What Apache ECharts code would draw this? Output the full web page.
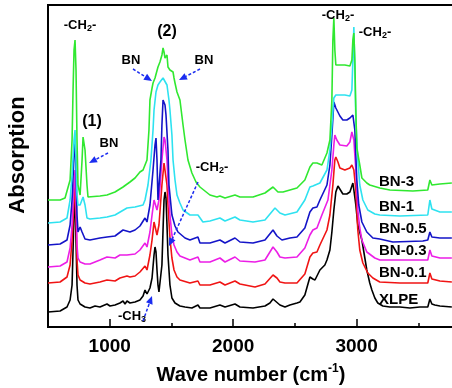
<!DOCTYPE html>
<html>
<head>
<meta charset="utf-8">
<script src="https://cdn.jsdelivr.net/npm/echarts@6/dist/echarts.min.js"></script>
<style>
  html, body { margin: 0; padding: 0; background: #fff; }
  #chart { width: 452px; height: 388px; }
</style>
</head>
<body>
<div id="chart"></div>
<script>
// FTIR spectra, [wave number (cm-1), absorption (a.u., stacked offset)]
const xlpe = [[500,15],[598,16],[654,20],[679,27],[695,42],[703,77],[711,117],[719,127],[727,87],[735,42],[743,27],[760,23],[800,20],[840,19],[881,21],[921,20],[978,23],[1002,21],[1043,22],[1083,24],[1108,26],[1124,23],[1140,26],[1164,24],[1205,25],[1245,27],[1270,31],[1286,37],[1302,33],[1326,39],[1343,49],[1359,72],[1367,80],[1375,75],[1383,57],[1391,42],[1399,35],[1407,37],[1423,62],[1432,97],[1440,127],[1448,135],[1456,129],[1464,102],[1472,72],[1488,42],[1504,29],[1529,24],[1569,21],[1610,20],[1666,19],[1715,22],[1731,19],[1812,19],[1893,22],[1934,20],[2015,23],[2055,20],[2161,19],[2258,21],[2298,24],[2323,28],[2339,27],[2379,22],[2420,20],[2460,22],[2517,24],[2541,25],[2581,32],[2622,50],[2646,48],[2663,47],[2679,51],[2703,57],[2743,62],[2760,67],[2784,77],[2800,95],[2816,117],[2832,135],[2849,141],[2865,139],[2889,133],[2905,132],[2921,133],[2946,135],[2962,141],[2970,144],[2978,137],[2994,122],[3010,102],[3043,87],[3067,69],[3083,57],[3107,44],[3124,37],[3148,29],[3172,24],[3213,21],[3270,20],[3351,20],[3432,19],[3513,20],[3577,20],[3594,28],[3610,23],[3634,22],[3675,21],[3772,20]];

const bn01 = [[500,44],[598,45],[654,50],[679,62],[695,87],[711,127],[719,142],[727,112],[735,67],[743,52],[760,47],[800,44],[840,43],[921,45],[978,47],[1043,46],[1083,49],[1140,51],[1164,50],[1205,51],[1245,55],[1286,61],[1302,57],[1326,72],[1343,87],[1359,105],[1367,107],[1383,92],[1399,102],[1407,115],[1423,142],[1440,164],[1448,162],[1464,142],[1472,122],[1488,89],[1504,69],[1521,57],[1545,50],[1569,47],[1650,44],[1715,46],[1731,42],[1812,42],[1893,45],[1934,42],[2015,46],[2055,43],[2177,40],[2258,43],[2323,52],[2355,49],[2379,45],[2420,44],[2517,44],[2581,53],[2622,70],[2646,74],[2679,75],[2703,82],[2760,97],[2784,112],[2808,142],[2824,167],[2832,170],[2849,165],[2865,159],[2905,157],[2946,159],[2962,162],[2978,157],[2994,137],[3010,97],[3026,77],[3051,64],[3091,54],[3132,49],[3188,45],[3351,44],[3577,44],[3594,54],[3610,48],[3675,46],[3772,45]];

const bn03 = [[500,60],[598,61],[654,65],[679,79],[695,102],[711,142],[719,157],[727,127],[735,82],[743,69],[760,65],[800,63],[840,63],[921,67],[978,70],[1043,69],[1083,72],[1140,72],[1205,73],[1245,77],[1286,84],[1302,80],[1326,95],[1343,112],[1359,127],[1367,129],[1383,117],[1399,127],[1407,139],[1423,167],[1440,190],[1448,187],[1464,167],[1472,147],[1488,112],[1504,92],[1521,82],[1545,75],[1569,71],[1650,67],[1715,70],[1731,65],[1812,65],[1893,69],[1934,65],[2015,70],[2055,66],[2177,65],[2258,67],[2323,80],[2355,75],[2379,70],[2420,69],[2517,70],[2581,79],[2622,92],[2646,97],[2679,99],[2719,112],[2768,127],[2800,157],[2816,182],[2824,192],[2840,187],[2865,182],[2921,181],[2946,185],[2962,195],[2978,187],[2994,157],[3010,117],[3026,99],[3043,87],[3083,75],[3148,69],[3188,67],[3351,67],[3577,67],[3594,77],[3610,71],[3675,69],[3772,69]];

const bn05 = [[500,82],[598,83],[654,87],[679,102],[695,127],[711,172],[719,187],[727,157],[735,112],[743,95],[760,100],[776,95],[800,88],[840,87],[921,89],[978,90],[1043,91],[1108,97],[1164,95],[1205,97],[1245,101],[1286,109],[1302,105],[1326,122],[1351,157],[1367,182],[1375,189],[1383,167],[1391,127],[1407,129],[1415,167],[1423,202],[1432,227],[1448,222],[1456,212],[1472,177],[1480,142],[1504,112],[1529,101],[1553,95],[1610,89],[1650,87],[1715,90],[1731,84],[1812,84],[1893,87],[1934,84],[2015,89],[2055,85],[2161,84],[2258,87],[2323,97],[2355,91],[2395,87],[2460,89],[2517,90],[2581,99],[2622,115],[2646,119],[2679,120],[2703,127],[2760,142],[2784,162],[2800,192],[2816,225],[2832,219],[2865,211],[2889,207],[2921,207],[2946,209],[2970,212],[2986,197],[3002,147],[3018,122],[3043,105],[3083,95],[3132,89],[3188,88],[3294,85],[3537,86],[3577,87],[3594,95],[3610,90],[3675,89],[3772,89]];

const bn1 = [[500,104],[598,105],[654,109],[679,127],[695,152],[711,187],[719,197],[727,167],[735,132],[743,122],[760,122],[784,130],[800,122],[816,109],[840,108],[921,109],[978,110],[1043,112],[1140,119],[1205,120],[1270,122],[1286,127],[1310,142],[1334,167],[1351,197],[1359,217],[1375,235],[1391,242],[1407,245],[1432,249],[1448,247],[1464,242],[1480,227],[1488,217],[1504,192],[1513,167],[1529,147],[1545,132],[1569,124],[1594,117],[1650,112],[1715,112],[1755,105],[1812,106],[1893,109],[1934,106],[2015,110],[2055,107],[2161,105],[2258,107],[2339,119],[2379,114],[2420,112],[2517,115],[2581,127],[2622,140],[2646,141],[2703,144],[2760,157],[2784,177],[2800,202],[2816,229],[2832,232],[2905,232],[2946,231],[2962,237],[2970,267],[2978,300],[2986,257],[2994,207],[3010,167],[3026,142],[3051,127],[3091,117],[3148,113],[3188,112],[3351,111],[3577,112],[3594,127],[3610,118],[3675,115],[3772,115]];

const bn3 = [[500,127],[598,127],[638,129],[679,147],[695,187],[703,237],[711,277],[719,287],[727,257],[735,187],[743,142],[760,132],[776,167],[784,190],[800,177],[816,142],[824,130],[840,129],[921,131],[978,132],[1043,135],[1108,140],[1164,145],[1205,149],[1245,155],[1270,157],[1302,167],[1318,197],[1326,227],[1343,239],[1351,244],[1367,249],[1391,260],[1407,265],[1423,272],[1432,279],[1440,275],[1448,269],[1464,272],[1472,260],[1488,257],[1504,255],[1513,255],[1521,249],[1529,244],[1545,235],[1569,227],[1594,202],[1610,187],[1634,167],[1666,154],[1699,145],[1731,140],[1812,132],[1869,130],[1893,131],[1934,129],[2015,132],[2055,130],[2161,130],[2258,134],[2323,140],[2363,135],[2404,135],[2460,137],[2517,139],[2581,147],[2622,160],[2646,164],[2679,164],[2719,162],[2760,174],[2784,187],[2800,227],[2808,287],[2816,309],[2824,277],[2832,262],[2865,262],[2905,262],[2946,261],[2962,267],[2970,287],[2978,294],[2986,267],[2994,217],[3002,179],[3026,162],[3043,149],[3083,144],[3107,142],[3188,139],[3270,137],[3456,136],[3577,137],[3594,147],[3610,142],[3675,143],[3772,144]];

const seriesNames = ['XLPE', 'BN-0.1', 'BN-0.3', 'BN-0.5', 'BN-1', 'BN-3'];
const seriesData = [xlpe, bn01, bn03, bn05, bn1, bn3];
const seriesColors = ['#000000', '#f01414', '#ec1ee6', '#1414c8', '#2ee2f0', '#30e830'];
const majorTicks = [1000, 2000, 3000];
const minorTicks = [1500, 2500, 3500];

const FONT = '"Liberation Sans", Arial, Helvetica, sans-serif';
const ARROW = '#1a2cf0';

// dashed annotation arrow with a filled head at (x2, y2)
function arrow(x1, y1, x2, y2) {
  const dx = x2 - x1, dy = y2 - y1, L = Math.hypot(dx, dy);
  const ux = dx / L, uy = dy / L, hl = 8, hw = 3.5;
  const bx = x2 - ux * hl, by = y2 - uy * hl;
  return [
    { type: 'line', z: 100, shape: { x1, y1, x2: bx, y2: by },
      style: { stroke: ARROW, lineWidth: 1.5, lineDash: [3, 2] } },
    { type: 'polygon', z: 100,
      shape: { points: [[x2, y2], [bx - uy * hw, by + ux * hw], [bx + uy * hw, by - ux * hw]] },
      style: { fill: ARROW } }
  ];
}

function label(text, x, y, size, align, rich) {
  return { type: 'text', z: 100, x, y,
    style: { text, fontFamily: FONT, fontSize: size, fontWeight: 'bold', fill: '#000',
      align: align || 'center', verticalAlign: 'middle', rich: rich } };
}

const subRich = {
  n: { fontFamily: FONT, fontSize: 13, fontWeight: 'bold', fill: '#000', lineHeight: 16 },
  s: { fontFamily: FONT, fontSize: 9, fontWeight: 'bold', fill: '#000', verticalAlign: 'bottom', lineHeight: 16 }
};
const ch2 = '{n|-CH}{s|2}{n|-}';
const ch3 = '{n|-CH}{s|3}';

const legendRows = [
  ['BN-3', 182], ['BN-1', 207], ['BN-0.5', 229], ['BN-0.3', 251], ['BN-0.1', 273], ['XLPE', 300]
];

const graphics = [
  label(ch2, 80, 25, 13, 'center', subRich),
  label('(2)', 167, 32, 16),
  label('BN', 131, 60, 13),
  label('BN', 204, 60, 13),
  label('(1)', 92, 122, 16),
  label('BN', 109, 143, 13),
  label(ch2, 212, 167, 13, 'center', subRich),
  label(ch3, 132, 316, 13, 'center', subRich),
  label(ch2, 338, 15, 13, 'center', subRich),
  label(ch2, 375, 32, 13, 'center', subRich),
  ...arrow(133, 69, 152, 81),
  ...arrow(200, 69, 179, 80),
  ...arrow(108, 153, 89, 163),
  ...arrow(198, 182, 169, 246),
  ...arrow(143, 321, 152, 296),
  ...legendRows.map(r => label(r[0], 379, r[1], 15, 'left')),
  { type: 'text', z: 100, x: 18, y: 155, rotation: Math.PI / 2,
    style: { text: 'Absorption', fontFamily: FONT, fontSize: 22, fontWeight: 'bold', fill: '#000',
      align: 'center', verticalAlign: 'middle' } },
  { type: 'text', z: 100, x: 251, y: 375,
    style: { text: '{t|Wave number (cm}{u|-1}{t|)}', align: 'center', verticalAlign: 'middle',
      rich: {
        t: { fontFamily: FONT, fontSize: 20, fontWeight: 'bold', fill: '#000', lineHeight: 24 },
        u: { fontFamily: FONT, fontSize: 12, fontWeight: 'bold', fill: '#000', verticalAlign: 'top', lineHeight: 24 }
      } } }
];

const chart = echarts.init(document.getElementById('chart'), null, { renderer: 'canvas' });
chart.setOption({
  animation: false,
  backgroundColor: '#fff',
  grid: { left: 48, top: 5, width: 432, height: 322, show: true, borderColor: '#000', borderWidth: 2,
    containLabel: false, outerBoundsMode: 'none' },
  xAxis: [
    { type: 'value', min: 500, max: 4000, position: 'bottom',
      axisLine: { show: true, lineStyle: { color: '#000', width: 2 } },
      axisTick: { show: true, inside: true, length: 8, customValues: majorTicks, lineStyle: { color: '#000', width: 1.5 } },
      axisLabel: { show: true, customValues: majorTicks, formatter: v => String(v),
        fontFamily: FONT, fontSize: 19, fontWeight: 'bold', color: '#000', margin: 10 },
      splitLine: { show: false } },
    { type: 'value', min: 500, max: 4000, position: 'bottom',
      axisLine: { show: false },
      axisTick: { show: true, inside: true, length: 4, customValues: minorTicks, lineStyle: { color: '#000', width: 1.5 } },
      axisLabel: { show: false },
      splitLine: { show: false } }
  ],
  yAxis: { type: 'value', min: 0, max: 322,
    axisLine: { show: true, lineStyle: { color: '#000', width: 2 } },
    axisTick: { show: false }, axisLabel: { show: false }, splitLine: { show: false } },
  series: seriesData.map((d, i) => ({
    name: seriesNames[i], type: 'line', xAxisIndex: 0, data: d, showSymbol: false, symbol: 'none',
    lineStyle: { color: seriesColors[i], width: 1.6 }, itemStyle: { color: seriesColors[i] },
    z: 2 + i
  })),
  graphic: graphics
});
</script>
</body>
</html>
